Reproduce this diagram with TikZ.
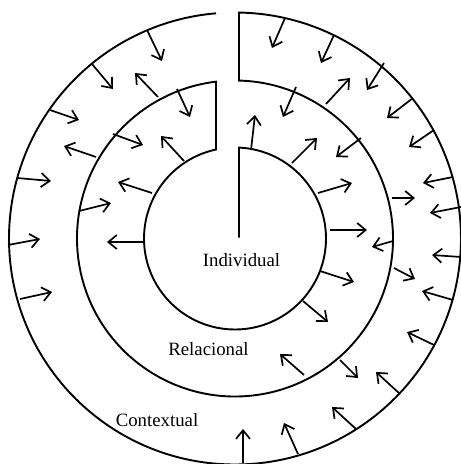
\documentclass[tikz,border=0pt]{standalone}
\usepackage{fontspec}
\setmainfont{Liberation Serif}
\usetikzlibrary{arrows.meta}
\begin{document}
\begin{tikzpicture}[x=1pt,y=1pt,
  ring/.style={line width=1.9pt, line join=miter},
  flow/.style={line width=1.7pt, -{Straight Barb[length=8.5pt,width=14pt]}},
  lbl/.style={anchor=base, inner sep=0pt, font=\fontsize{18.8}{22}\selectfont}]
\useasboundingbox (0,-464) rectangle (461,0);
\coordinate (C) at (235,-238.5);
% slit edges at x = 216 and x = 239
\pgfmathsetmacro{\ia}{acos(4/91)}
\pgfmathsetmacro{\ib}{acos(-19/91)-360}
\pgfmathsetmacro{\ma}{acos(-19/158)}
\pgfmathsetmacro{\mb}{acos(4/158)+360}
\pgfmathsetmacro{\oa}{acos(4/226)}
\pgfmathsetmacro{\ob}{acos(-19/226)-360}
% one spiral line: centre, inner circle, middle circle, outer circle
\draw[ring] (239,-237.5) -- ([shift={(C)}]\ia:91)
  arc[start angle=\ia, end angle=\ib, radius=91pt]
  -- ([shift={(C)}]\ma:158)
  arc[start angle=\ma, end angle=\mb, radius=158pt]
  -- ([shift={(C)}]\oa:226)
  arc[start angle=\oa, end angle=\ob, radius=226pt];
% arrows (tail x/y, tip x/y)
\foreach \xa/\ya/\xb/\yb in {
  147/30/162/61, 92/64/113/89, 50/110/79/120, 17/178/51/181,
  8/245/40/239, 20/299/52/292, 285/18/272/48, 334/35/321/63,
  384/63/367/90, 413/98/387/118, 434/130/409/147, 453/177/423/183,
  461/207/430/213, 461/257/432/255, 453/300/422/291, 434/345/407/332,
  400/394/376/372, 356/429/332/407, 298/454/284/423, 243/463/243/429,
  158/97/135/73, 96/157/64/146, 326/104/350/78, 392/198/415/198,
  394/268/415/279, 340/360/358/378,
  177/89/190/117, 113/134/143/145, 79/211/111/203, 296/87/283/117,
  361/138/336/157, 393/241/372/247, 304/375/280/354,
  184/161/161/136, 152/193/118/182, 143/242/107/242, 251/150/255/115,
  292/163/317/138, 318/193/352/183, 330/230/367/230, 320/271/354/282,
  303/301/328/322}
  \draw[flow] (\xa,-\ya) -- (\xb,-\yb);
\node[lbl] (ind) at (241.5,-266) {Individual};
\node[lbl] (rel) at (208.5,-355) {Relacional};
\node[lbl] (con) at (157,-426) {Contextual};
\end{tikzpicture}
\end{document}
